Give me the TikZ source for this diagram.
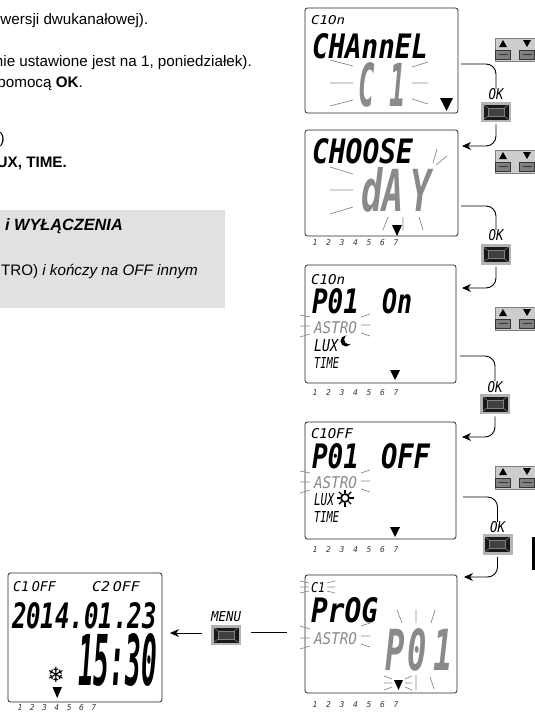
\documentclass[tikz,border=0pt]{standalone}
\usepackage{fontspec}
\usepackage{graphicx}
\usetikzlibrary{arrows.meta}
\setmainfont{Liberation Sans}
\newfontfamily\lcdbold[Scale=1]{DejaVu Sans Mono Bold Oblique}
\newfontfamily\lcdthin{DejaVu Sans Mono Oblique}
\newfontfamily\symfont{DejaVu Sans}
\definecolor{lcdgray}{HTML}{8A8A8A}
\definecolor{panelgray}{HTML}{E1E1E1}
\definecolor{keyframe}{HTML}{B4B4B4}
\newcounter{lcdn}
\newcommand{\lcdtxt}[6]{\stepcounter{lcdn}\node[lcd,text=#5] (lcd\thelcdn) at (#1,#2) {\resizebox{#3pt}{#4pt}{#6}};}
\newcommand{\okkey}[3]{%
  \node[keybox] (#1) at (#2,#3) {};
  \begin{scope}[shift={(#1.center)}]
    \fill[black!90] (-12.5,-7.5) rectangle (12.5,7.5);
    \draw[gray,line width=.5pt] (-12.5,-7.5) -- (-8,-4) (12.5,-7.5) -- (8,-4) (-12.5,7.5) -- (-8,4) (12.5,7.5) -- (8,4);
    \draw[gray,fill=black!75,line width=.5pt] (-8,-4) rectangle (8,4);
  \end{scope}}
\newcommand{\arrowkeys}[3]{%
  \node[pairbox] (#1) at (#2,#3) {};
  \begin{scope}[shift={(#1.center)}]
    \fill (-16,-3) -- (-12,-10) -- (-8,-3) -- cycle;
    \fill (8,-10) -- (12,-3) -- (16,-10) -- cycle;
    \foreach \kx in {-12,12} {
      \draw[black!80,fill=gray,line width=.7pt] (\kx-7.5,0) rectangle (\kx+7.5,9);
      \draw[black!80,line width=1.6pt] (\kx-4.5,4.5) -- (\kx+4.5,4.5);
    }
  \end{scope}}
\newcommand{\days}[3]{\foreach \dn in {1,...,7} {
    \node[dayno] (#3d\dn) at ({#1+#2*(\dn-1)},#3) {\dn};}}
\tikzset{
  x=1pt,y=-1pt,
  screen/.style={draw=black!85,line width=.8pt,rounded corners=2.5pt,fill=white,inner sep=0pt},
  lcd/.style={anchor=north west,inner sep=0pt,outer sep=0pt},
  body/.style={anchor=east,inner sep=0pt,font=\fontsize{15.2}{18}\selectfont},
  dayno/.style={inner sep=0pt,font=\lcdthin\fontsize{8}{8}\selectfont,text=black!80},
  keybox/.style={draw=none,fill=keyframe,minimum width=30pt,minimum height=20.5pt,inner sep=0pt,outer sep=2pt},
  pairbox/.style={draw=gray,fill=black!20,line width=.8pt,minimum width=40pt,minimum height=23pt,inner sep=0pt},
  keylabel/.style={inner sep=0pt,outer sep=0pt,font=\lcdthin},
  conn/.style={line width=.9pt,rounded corners=10pt},
  connarrow/.style={line width=.9pt,rounded corners=10pt,-{Stealth[length=9pt,width=8pt]}},
  straightarrow/.style={line width=.9pt,-{Stealth[length=9pt,width=8pt]}},
  ray/.style={draw=lcdgray,line width=.7pt}
}
\begin{document}
\begin{tikzpicture}
\useasboundingbox (0,0) rectangle (535,712);
% left text
\node[body] (l1) at (148.5,21) {wersji dwukanałowej).};
\node[body] (l2) at (252,63) {nie ustawione jest na 1, poniedziałek).};
\node[body] (l3) at (83,84) {pomocą \textbf{OK}.};
\node[body] (l4) at (5,140) {)};
\node[body] (l5) at (67,163) {\textbf{UX, TIME.}};
\fill[panelgray] (0,210) rectangle (225,308);
\node[body,font=\fontsize{16.3}{19}\selectfont\bfseries\itshape] (l6) at (123,226) {i WYŁĄCZENIA};
\node[body] (l7) at (198,271) {TRO) \textit{i kończy na OFF innym}};
\fill (532,537) rectangle (535,570);
% screens
\node[screen,minimum width=153pt,minimum height=105pt] (s1) at (381.5,60.5) {};
\node[screen,minimum width=153pt,minimum height=106pt] (s2) at (381.5,183) {};
\node[screen,minimum width=151pt,minimum height=118pt] (s3) at (380.5,324) {};
\node[screen,minimum width=151pt,minimum height=117pt] (s4) at (380.5,480.5) {};
\node[screen,minimum width=152pt,minimum height=118pt] (s5) at (381,634) {};
\node[screen,minimum width=154pt,minimum height=129pt] (s6) at (85,637.5) {};
% screen 1
\lcdtxt{311}{15}{34}{9}{black}{\lcdthin C1On}
\lcdtxt{312}{33}{116}{25}{black}{\lcdbold CHAnnEL}
\lcdtxt{358}{62}{48}{44}{lcdgray}{\lcdbold C\hspace{.55em}1}
\draw[ray] (330,60)--(353,66) (330,83)--(353,83) (330,106)--(353,100) (412,67)--(428,62) (412,83)--(428,83) (412,99)--(428,104);
\fill (440,98) -- (453,98) -- (446.5,111) -- cycle;
% screen 2
\lcdtxt{312}{138}{101}{25}{black}{\lcdbold CHOOSE}
\lcdtxt{361}{167}{71}{44}{lcdgray}{\lcdbold dA\hspace{.2em}Y}
\draw[ray] (330,167)--(353,174) (330,190)--(353,190) (330,214)--(353,207) (437,149)--(433,163) (447,156)--(436,165) (388,217)--(383,230) (403,217)--(403,230) (419,217)--(423,230);
\fill (392,225) -- (402,225) -- (397,236) -- cycle;
\days{315}{13.5}{243}
% screen 3
\lcdtxt{311}{274}{34}{10}{black}{\lcdthin C1On}
\lcdtxt{312}{288}{47}{25}{black}{\lcdbold P01}
\lcdtxt{382}{288}{30}{25}{black}{\lcdbold On}
\lcdtxt{314}{321}{43}{12}{lcdgray}{\lcdthin ASTRO}
\draw[ray] (300,315)--(310,317) (300,326)--(310,326) (300,337)--(310,334) (361,317)--(370,314) (361,325)--(370,325) (361,333)--(370,336);
\lcdtxt{314}{339}{24}{12}{black}{\lcdthin LUX}
\fill (346,341) circle (5.5);
\fill[white] (349,339.5) circle (4.8);
\lcdtxt{314}{357}{25}{11}{black}{\lcdthin TIME}
\fill (390,370) -- (400,370) -- (395,380) -- cycle;
\days{315}{13.5}{393}
% screen 4
\lcdtxt{311}{428}{42}{10}{black}{\lcdthin C1OFF}
\lcdtxt{312}{443}{47}{25}{black}{\lcdbold P01}
\lcdtxt{381}{443}{49}{25}{black}{\lcdbold OFF}
\lcdtxt{314}{476}{43}{12}{lcdgray}{\lcdthin ASTRO}
\draw[ray] (300,471)--(310,473) (300,482)--(310,482) (300,493)--(310,490) (361,473)--(370,470) (361,481)--(370,481) (361,489)--(370,492);
\lcdtxt{314}{493}{20}{12}{black}{\lcdthin LUX}
\draw[line width=1.7pt] (345,498) circle (4);
\foreach \sa in {0,45,...,315} {\draw[line width=1.4pt] (345,498) ++(\sa:5) -- ++(\sa:3.5);}
\lcdtxt{314}{511}{25}{11}{black}{\lcdthin TIME}
\fill (390,527) -- (400,527) -- (395,537) -- cycle;
\days{315}{13.5}{550}
% screen 5
\lcdtxt{311}{582}{14}{10}{black}{\lcdthin C1}
\draw[ray] (300,581)--(309,583) (300,587)--(309,587) (300,593)--(309,591) (327,583)--(335,581) (327,587)--(335,587) (327,591)--(335,593);
\lcdtxt{311}{597}{67}{25}{black}{\lcdbold PrOG}
\lcdtxt{314}{632}{43}{12}{lcdgray}{\lcdthin ASTRO}
\draw[ray] (300,626)--(310,629) (300,638)--(310,638) (300,649)--(310,646) (361,626)--(370,623) (361,636)--(370,636) (361,644)--(370,647);
\lcdtxt{385}{628}{68}{42}{lcdgray}{\lcdbold P\hspace{.1em}0\hspace{.2em}1}
\draw[ray] (397,610)--(402,623) (416,610)--(416,623) (435,610)--(431,623)
  (384,676)--(392,679) (384,683)--(392,683) (384,690)--(392,687) (412,676)--(405,679) (412,683)--(405,683) (412,690)--(405,687)
  (416,675)--(416,690) (430,677)--(434,689);
\fill (394,680) -- (403,680) -- (398.5,690) -- cycle;
\days{315}{13.5}{705}
% screen 6
\lcdtxt{13}{581}{43}{10}{black}{\lcdthin C1\hspace{.2em}OFF}
\lcdtxt{92}{581}{48}{10}{black}{\lcdthin C2\hspace{.2em}OFF}
\lcdtxt{12}{602}{145}{26}{black}{\lcdbold 2014.01.23}
\lcdtxt{78}{633}{79}{52}{black}{\lcdbold 15:30}
\node[inner sep=0pt,font=\symfont\bfseries\fontsize{21}{21}\selectfont] (snow) at (56,675) {❄};
\fill (52.5,687) -- (62,687) -- (57.2,698) -- cycle;
\days{20}{12.3}{708}
% keys
\okkey{ok1}{496}{112}
\okkey{ok2}{496}{254.5}
\okkey{ok3}{495}{404}
\okkey{ok4}{497.5}{544.5}
\okkey{okm}{226}{635}
\node[keylabel] (okl1) at (496,94.5) {\resizebox{15pt}{11pt}{OK}};
\node[keylabel] (okl2) at (496,235.5) {\resizebox{15pt}{11pt}{OK}};
\node[keylabel] (okl3) at (495,387) {\resizebox{15pt}{11pt}{OK}};
\node[keylabel] (okl4) at (497.5,527.5) {\resizebox{15pt}{11pt}{OK}};
\node[keylabel] (menul) at (226,617) {\resizebox{30pt}{10pt}{MENU}};
\arrowkeys{p1}{515}{50}
\arrowkeys{p2}{515}{162}
\arrowkeys{p3}{515}{319}
\arrowkeys{p4}{515}{478}
% connectors
\coordinate (c1) at (461,64);
\coordinate (a1) at (462,146);
\coordinate (c2) at (461,206);
\coordinate (a2) at (462,288);
\coordinate (c3) at (460,356);
\coordinate (a3) at (462,437);
\coordinate (c4) at (463,497);
\coordinate (a4) at (464,577);
\coordinate (m1) at (287,632);
\coordinate (m2) at (202,633);
\coordinate (m3) at (170,633);
\draw[conn] (c1) -| (okl1.north);
\draw[connarrow] (ok1.south) |- (a1);
\draw[conn] (c2) -| (okl2.north);
\draw[connarrow] (ok2.south) |- (a2);
\draw[conn] (c3) -| (okl3.north);
\draw[connarrow] (ok3.south) |- (a3);
\draw[conn] (c4) -| (okl4.north);
\draw[connarrow] (ok4.south) |- (a4);
\draw[line width=.9pt,shorten <=8pt] (okm.east |- m1) -- (m1);
\draw[straightarrow] (m2) -- (m3);
\end{tikzpicture}
\end{document}
